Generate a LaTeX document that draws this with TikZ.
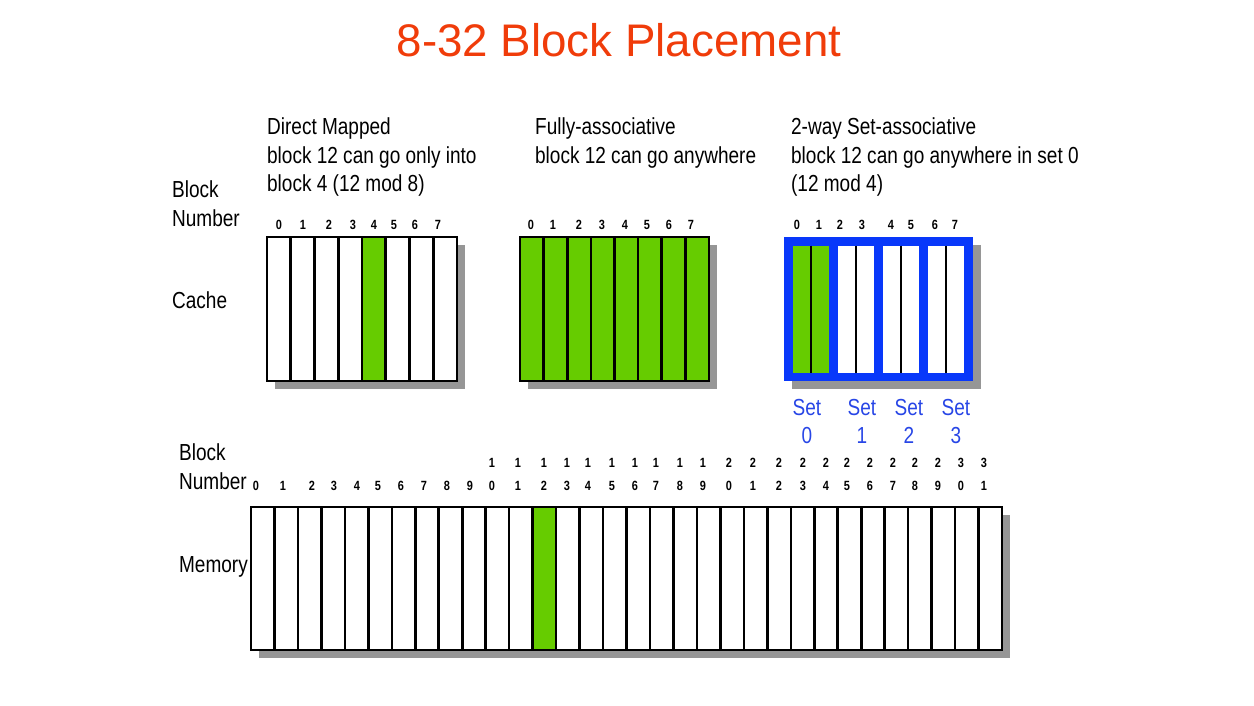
\documentclass[tikz,border=0pt]{standalone}
\usepackage{fontspec}
\setmainfont{Liberation Sans}
\newfontfamily\narrowfont[FakeStretch=0.82]{Liberation Sans}
\usetikzlibrary{positioning}

\definecolor{titlered}{RGB}{240,60,10}
\definecolor{cachegreen}{RGB}{102,204,0}
\definecolor{setblue}{RGB}{8,56,250}
\definecolor{setlabel}{RGB}{40,70,230}
\definecolor{shadowgray}{RGB}{150,150,150}

\begin{document}
\begin{tikzpicture}[
            x=0.05cm, y=-0.05cm,
            lbl/.style={font=\narrowfont\fontsize{33}{40.5}\selectfont,
                        inner sep=0pt, align=left, anchor=north west},
            num/.style={font=\narrowfont\bfseries\fontsize{19}{20}\selectfont,
                        inner sep=0pt, anchor=base},
            shade/.style={fill=shadowgray},
            cell/.style={draw=black, line width=3.7pt}
        ]
            \useasboundingbox (0,0) rectangle (1254,706);

            % title
            \node[font=\fontsize{65}{70}\selectfont, text=titlered, inner sep=0pt] (title) at (619,40) {8-32 Block Placement};

            % headings
            \node[lbl] (dmtext) at (267,118) {Direct Mapped\\block 12 can go only into\\block 4 (12 mod 8)};
            \node[lbl] (fatext) at (535,118) {Fully-associative\\block 12 can go anywhere};
            \node[lbl] (satext) at (791,118) {2-way Set-associative\\block 12 can go anywhere in set 0\\(12 mod 4)};

            \node[lbl] (cachenum) at (172,181) {Block\\Number};
            \node[lbl] (cachelbl) at (172,292) {Cache};
            \node[lbl] (memnum) at (179,444) {Block\\Number};
            \node[lbl] (memlbl) at (179,556) {Memory};

            % direct mapped cache
            \fill[shade] (275,245) rectangle (465,389);
            \fill[white] (267,237) rectangle (457,381);
            \fill[cachegreen] ({267+4*23.75},237) rectangle ++(23.75,144);
            \foreach \i in {1,...,7}
                \draw[cell] ({267+\i*23.75},237) -- ++(0,144);
            \draw[cell] (267,237) rectangle (457,381);
            \foreach \x [count=\n from 0] in {279,303,329,353,374,394,415,438}
                \node[num] (dm\n) at (\x,230) {\n};

            % fully associative cache
            \fill[shade] (528,245) rectangle (717,389);
            \fill[cachegreen] (520,237) rectangle (709,381);
            \foreach \i in {1,...,7}
                \draw[cell] ({520+\i*23.625},237) -- ++(0,144);
            \draw[cell] (520,237) rectangle (709,381);
            \foreach \x [count=\n from 0] in {531,553,579,602,625,647,669,691}
                \node[num] (fa\n) at (\x,230) {\n};

            % 2-way set associative cache
            \fill[shade] (792,245) rectangle (981,389);
            \fill[setblue] (784,237) rectangle (973,381);
            \foreach \s in {0,...,3} {
                \pgfmathsetmacro\sx{784+8.5+\s*45.1}
                \ifnum\s=0 \def\sc{cachegreen}\else\def\sc{white}\fi
                \fill[\sc] (\sx,245.5) rectangle ++(36.6,127);
                \draw[black, line width=3.7pt] ({\sx+18.3},245.5) -- ++(0,127);
            }
            \foreach \x [count=\n from 0] in {797,819,840,862,891,911,935,955}
                \node[num] (sa\n) at (\x,230) {\n};
            \foreach \x [count=\n from 0] in {807,862,909,956}
                \node[lbl, anchor=north, align=center, text=setlabel] (set\n) at (\x,399) {Set\\\n};

            % memory
            \fill[shade] (259,515) rectangle (1010,658);
            \fill[white] (251,507) rectangle (1002,650);
            \fill[cachegreen] ({251+12*23.47},507) rectangle ++(23.47,143);
            \foreach \i in {1,...,31}
                \draw[cell] ({251+\i*23.47},507) -- ++(0,143);
            \draw[cell] (251,507) rectangle (1002,650);
            \foreach \x [count=\n from 0] in {256,283,312,334,357,378,401,424,447,470,492,518,544,567,588,612,635,656,680,703,729,753,779,803,826,847,870,893,915,938,961,984} {
                \pgfmathtruncatemacro\tens{\n/10}
                \pgfmathtruncatemacro\ones{mod(\n,10)}
                \ifnum\n>9 \node[num] (mt\n) at (\x,467) {\tens}; \fi
                \node[num] (mb\n) at (\x,490) {\ones};
            }
        \end{tikzpicture}
\end{document}
